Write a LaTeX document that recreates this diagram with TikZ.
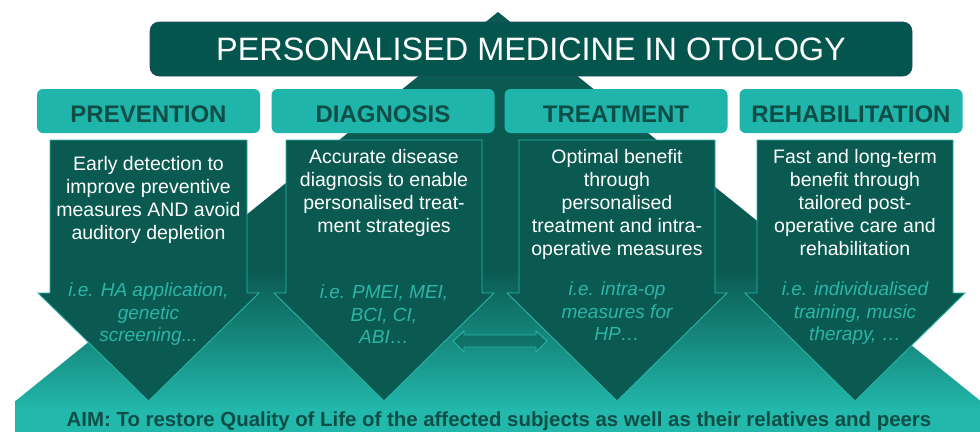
\documentclass[tikz,border=0pt]{standalone}
\usepackage{fontspec}
\setmainfont{Liberation Sans}
\definecolor{dk}{HTML}{0A5A51}
\definecolor{ttl}{HTML}{03554D}
\definecolor{ttledge}{HTML}{1D4F66}
\definecolor{cat}{HTML}{1FB5AA}
\definecolor{cattxt}{HTML}{0E4E47}
\definecolor{lt}{HTML}{22B8AB}
\definecolor{edge}{HTML}{2BB5A8}
\definecolor{ital}{HTML}{2DB5A8}
\begin{document}
\begin{tikzpicture}[x=1pt,y=-1pt,
  catbox/.style={fill=cat, rounded corners=6pt, minimum width=223pt, minimum height=44pt, inner sep=0pt},
  cattext/.style={font=\fontsize{24}{28}\selectfont\bfseries, text=cattxt, anchor=base, inner sep=0pt},
  bodytxt/.style={font=\fontsize{19.5}{23}\selectfont, text=white, align=center, anchor=north, inner sep=0pt},
  itxt/.style={font=\fontsize{19}{22.5}\selectfont\itshape, text=ital, align=center, anchor=north, inner sep=0pt},
  bigarrow/.style={fill=dk, draw=edge, line width=0.9pt},
]
\useasboundingbox (0,0) rectangle (980,432);
\fill[white] (0,0) rectangle (980,432);
% background pyramid
\begin{scope}
  \clip (15,0) rectangle (980,432);
  \clip (498,12) -- (-23,432) -- (1019,432) -- cycle;
  \fill[dk] (0,0) rectangle (980,272);
  \shade[top color=dk, bottom color=lt] (0,270) rectangle (980,410);
  \fill[lt] (0,409) rectangle (980,432);
\end{scope}
% title
\node[fill=ttl, draw=ttledge, line width=0.6pt, rounded corners=9pt, minimum width=762pt, minimum height=54pt, inner sep=0pt] (titlebox) at (531,49) {};
\node[anchor=base, inner sep=0pt, font=\fontsize{32.4}{36}\selectfont, text=white] (title) at (531,60) {PERSONALISED MEDICINE IN OTOLOGY};
% category boxes
\node[catbox] (b1) at (148.5,111) {};
\node[catbox] (b2) at (383,111) {};
\node[catbox] (b3) at (616,111) {};
\node[catbox] (b4) at (851,111) {};
\node[cattext] (c1) at (148.5,122) {PREVENTION};
\node[cattext] (c2) at (383,122) {DIAGNOSIS};
\node[cattext] (c3) at (616,122) {TREATMENT};
\node[cattext] (c4) at (851,122) {REHABILITATION};
% big down arrows
\draw[bigarrow] (50,140) -- (247,140) -- (247,293) -- (259,293) -- (148.5,401) -- (38,293) -- (50,293) -- cycle;
\draw[bigarrow] (286,140) -- (482,140) -- (482,293) -- (494,293) -- (384,401) -- (274,293) -- (286,293) -- cycle;
\draw[bigarrow] (519,140) -- (715,140) -- (715,293) -- (727,293) -- (617,401) -- (507,293) -- (519,293) -- cycle;
\draw[bigarrow] (757,140) -- (953,140) -- (953,293) -- (965,293) -- (855,401) -- (745,293) -- (757,293) -- cycle;
% double arrow
\draw[draw=edge, fill=dk, fill opacity=0.5, line width=0.9pt] (453,341) -- (464,331) -- (464,335) -- (536,335) -- (536,331) -- (547,341) -- (536,352) -- (536,347) -- (464,347) -- (464,352) -- cycle;
% body texts
\node[bodytxt] (t1) at (148.5,156) {Early detection to\\improve preventive\\measures AND avoid\\auditory depletion};
\node[bodytxt] (t2) at (384,149) {Accurate disease\\diagnosis to enable\\personalised treat-\\ment strategies};
\node[bodytxt] (t3) at (617,149) {Optimal benefit\\through\\personalised\\treatment and intra-\\operative measures};
\node[bodytxt] (t4) at (855,149) {Fast and long-term\\benefit through\\tailored post-\\operative care and\\rehabilitation};
% examples
\node[itxt] (e1) at (148.5,283) {i.e. HA application,\\genetic\\screening...};
\node[itxt] (e2) at (384,285) {i.e. PMEI, MEI,\\BCI, CI,\\ABI…};
\node[itxt] (e3) at (617,282) {i.e. intra-op\\measures for\\HP…};
\node[itxt] (e4) at (855,282) {i.e. individualised\\training, music\\therapy, …};
% aim
\node[anchor=base, inner sep=0pt, font=\fontsize{20.4}{24}\selectfont\bfseries, text=cattxt] (aim) at (499,426) {AIM: To restore Quality of Life of the affected subjects as well as their relatives and peers};
\end{tikzpicture}
\end{document}
